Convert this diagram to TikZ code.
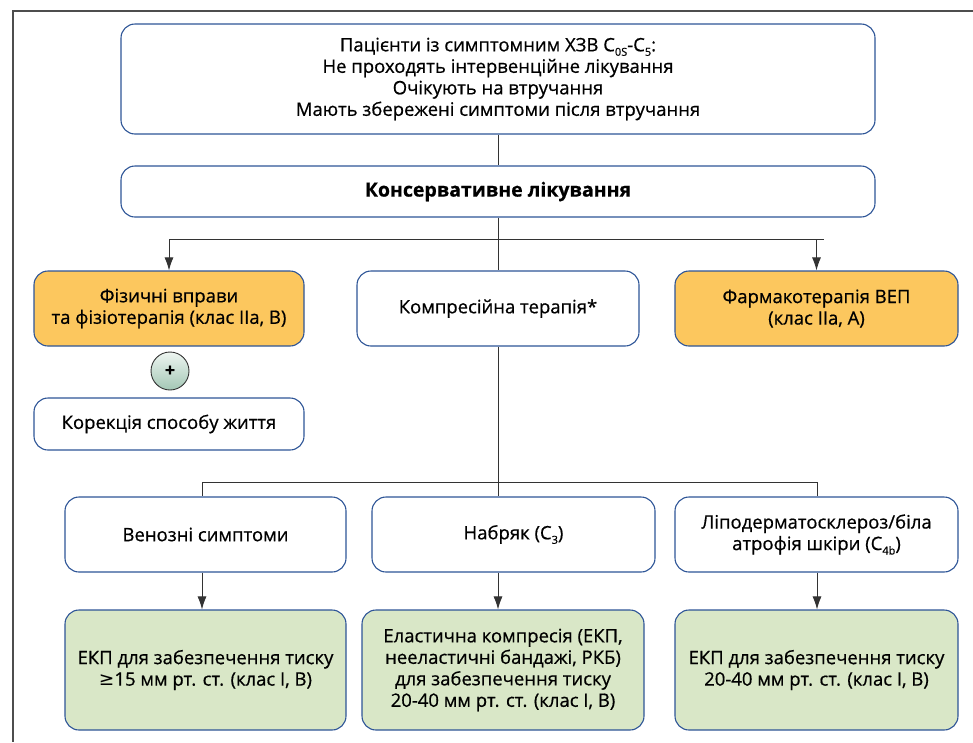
\documentclass[tikz,border=0pt]{standalone}
\usepackage{fontspec}
\setmainfont{Open Sans}[FakeBold=0.6]
\newfontfamily\symf{DejaVu Sans}
\usetikzlibrary{arrows.meta,calc}
\definecolor{bordblue}{HTML}{2E5597}
\definecolor{orangefill}{HTML}{FCC75E}
\definecolor{greenfill}{HTML}{D9E7C7}
\definecolor{linegray}{HTML}{333333}
\definecolor{framegray}{HTML}{4D4D4D}
\definecolor{circtop}{HTML}{EEF5F1}
\definecolor{circbot}{HTML}{A3C7B5}
\newcommand{\lowsub}[1]{\raisebox{-0.45ex}{\fontsize{11}{11}\selectfont #1}}
\begin{document}
\begin{tikzpicture}[x=1pt,y=-1pt,
  box/.style={draw=bordblue, line width=1.1pt, rounded corners=14pt, fill=white,
    align=center, inner sep=0pt, font=\fontsize{18.5}{21.5}\selectfont},
  obox/.style={box, fill=orangefill},
  gbox/.style={box, fill=greenfill},
  conn/.style={draw=linegray, line width=0.9pt},
  arr/.style={conn, -{Latex[length=13pt,width=9pt]}},
  frame/.style={draw=framegray, line width=1.8pt}]
\useasboundingbox (0,0) rectangle (973,742);
% frame
\coordinate (fTR) at (973,11);
\coordinate (fTL) at (13,11);
\coordinate (fBL) at (13,742);
\draw[frame] (fTR) -- (fTL) -- (fBL);
% boxes
\node[box, minimum width=754pt, minimum height=110pt] (top) at (498,79)
  {Пацієнти із симптомним ХЗВ C\lowsub{0S}-C\lowsub{5}:\\
   Не проходять інтервенційне лікування\\
   Очікують на втручання\\
   Мають збережені симптоми після втручання};
\node[box, minimum width=754pt, minimum height=51pt, font=\bfseries\fontsize{19.5}{22}\selectfont] (cons) at (498,191.5)
  {Консервативне лікування};
\node[obox, minimum width=270pt, minimum height=75pt] (fiz) at (169,308.5)
  {Фізичні вправи\\та фізіотерапія (клас IIa, B)};
\node[box, minimum width=282pt, minimum height=75pt] (komp) at (498,308.5)
  {Компресійна терапія*};
\node[obox, minimum width=283pt, minimum height=75pt] (farm) at (816.5,308.5)
  {Фармакотерапія ВЕП\\(клас IIa, A)};
\node[circle, draw=linegray, line width=0.9pt, minimum size=38pt, inner sep=0pt,
  top color=circtop, bottom color=circbot,
  font=\bfseries\fontsize{18}{18}\selectfont] (plus) at (170,371) {+};
\node[box, minimum width=270pt, minimum height=52pt] (kor) at (169,424)
  {Корекція способу життя};
\node[box, minimum width=281pt, minimum height=75pt] (ven) at (205.5,534.5)
  {Венозні симптоми};
\node[box, minimum width=283pt, minimum height=75pt] (nab) at (513.5,534.5)
  {Набряк (C\lowsub{3})};
\node[box, minimum width=283pt, minimum height=75pt] (lipo) at (816.5,534.5)
  {Ліподерматосклероз/біла\\атрофія шкіри (C\lowsub{4b})};
\node[gbox, minimum width=281pt, minimum height=120pt] (g1) at (205.5,670)
  {ЕКП для забезпечення тиску\\{\symf ≥}15 мм рт. ст. (клас I, B)};
\node[gbox, minimum width=282pt, minimum height=120pt] (g2) at (503,670)
  {Еластична компресія (ЕКП,\\нееластичні бандажі, РКБ)\\для забезпечення тиску\\20-40 мм рт. ст. (клас I, B)};
\node[gbox, minimum width=283pt, minimum height=120pt] (g3) at (816.5,670)
  {ЕКП для забезпечення тиску\\20-40 мм рт. ст. (клас I, B)};
% connectors level 1
\coordinate (h1L) at (169,239);
\coordinate (h1R) at (824,239);
\coordinate (h1M) at (cons.south |- h1L);
\draw[conn] (top.south) -- (cons.north);
\draw[conn] (cons.south) -- (h1M);
\draw[conn] (h1L) -- (h1R);
\draw[arr] (h1L) -- (fiz.north);
\draw[arr] (farm.north |- h1L) -- (farm.north);
\draw[conn] (h1M) -- (komp.north);
% connectors level 2
\coordinate (h2L) at (202,482);
\coordinate (h2R) at (817,482);
\coordinate (h2M) at (komp.south |- h2L);
\draw[conn] (komp.south) -- (h2M);
\draw[conn] (h2L) -- (h2R);
\draw[conn] (h2L) -- (h2L |- ven.north);
\draw[conn] (h2M) -- (h2M |- nab.north);
\draw[conn] (h2R) -- (h2R |- lipo.north);
\draw[arr] (h2L |- ven.south) -- (h2L |- g1.north);
\draw[arr] (h2M |- nab.south) -- (h2M |- g2.north);
\draw[arr] (h2R |- lipo.south) -- (h2R |- g3.north);
\end{tikzpicture}
\end{document}
